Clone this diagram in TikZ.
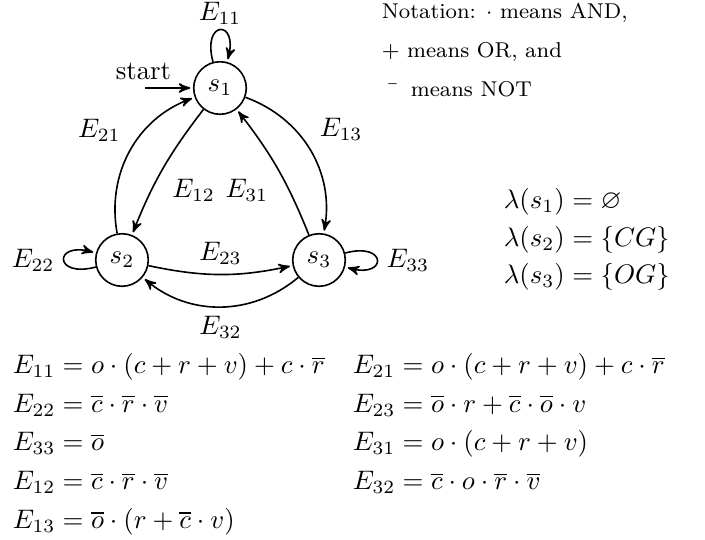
\documentclass[tikz,border=0pt]{standalone}
\usepackage{amssymb}
\usetikzlibrary{arrows}
\begin{document}
\begin{tikzpicture}[x=0.3731pt,y=-0.3731pt, semithick,
  stnode/.style={circle,draw,minimum size=19.6pt,inner sep=0pt},
  trans/.style={->,>=stealth',shorten >=1pt,auto},
  eq/.style={anchor=base west,inner sep=0pt},
  note/.style={anchor=base west,inner sep=0pt,font=\footnotesize}]
\useasboundingbox (0,0) rectangle (705,539);
% states
\node[stnode] (s1) at (220,88) {$s_1$};
\node[stnode] (s2) at (122,260) {$s_2$};
\node[stnode] (s3) at (319,260) {$s_3$};
% start arrow
\coordinate (st) at (145,88);
\node[anchor=base,inner sep=0pt] (starttext) at (143.5,79) {start};
\draw[trans] (st) -- (s1);
% transitions
\path[trans]
 (s1) edge[loop above] node[yshift=-1.6pt] {$E_{11}$} ()
      edge[bend right=8] node {$E_{12}$} (s2)
      edge[bend left=40] node {$E_{13}$} (s3)
 (s2) edge[loop left] node {$E_{22}$} ()
      edge[bend left=40] node {$E_{21}$} (s1)
      edge[bend right=12] node {$E_{23}$} (s3)
 (s3) edge[loop right] node {$E_{33}$} ()
      edge[bend right=8] node {$E_{31}$} (s1)
      edge[bend left=40] node {$E_{32}$} (s2);
% notation
\node[note] (n1) at (381,18.3) {Notation: $\cdot$ means AND,};
\node[note] (n2) at (381,57) {$+$ means OR, and};
\node[note] (n3) at (381,96.5) {$\bar{\quad}$ means NOT};
% labelling
\node[eq] (l1) at (503,208.5) {$\lambda(s_1) = \varnothing$};
\node[eq] (l2) at (503,246) {$\lambda(s_2) = \{CG\}$};
\node[eq] (l3) at (503,283.5) {$\lambda(s_3) = \{OG\}$};
% equations
\node[eq] (e11) at (12,373.5) {$E_{11} = o\cdot(c+r+v)+c\cdot\overline{r}$};
\node[eq] (e22) at (12,412.2) {$E_{22} = \overline{c}\cdot\overline{r}\cdot\overline{v}$};
\node[eq] (e33) at (12,450.9) {$E_{33} = \overline{o}$};
\node[eq] (e12) at (12,489.6) {$E_{12} = \overline{c}\cdot\overline{r}\cdot\overline{v}$};
\node[eq] (e13) at (12,528.3) {$E_{13} = \overline{o}\cdot(r+\overline{c}\cdot v)$};
\node[eq] (e21) at (352,373.5) {$E_{21} = o\cdot(c+r+v)+c\cdot\overline{r}$};
\node[eq] (e23) at (352,412.2) {$E_{23} = \overline{o}\cdot r+\overline{c}\cdot\overline{o}\cdot v$};
\node[eq] (e31) at (352,450.9) {$E_{31} = o\cdot(c+r+v)$};
\node[eq] (e32) at (352,489.6) {$E_{32} = \overline{c}\cdot o\cdot\overline{r}\cdot\overline{v}$};
\end{tikzpicture}
\end{document}
